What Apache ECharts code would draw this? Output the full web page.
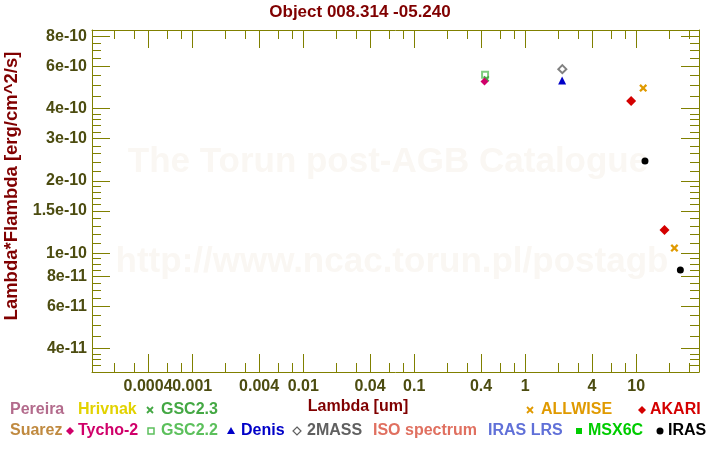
<!DOCTYPE html>
<html><head><meta charset="utf-8">
<script src="https://cdn.jsdelivr.net/npm/echarts@6/dist/echarts.min.js"></script>
<style>html,body{margin:0;padding:0;background:#fff}#c{width:720px;height:450px}</style>
</head><body><div id="c"></div>
<script>
// ---------- data ----------
const titleText = 'Object 008.314 -05.240';
const xName = 'Lambda [um]';
const yName = 'Lambda*Flambda [erg/cm^2/s]';
const watermark1 = 'The Torun post-AGB Catalogue';
const watermark2 = 'http://www.ncac.torun.pl/postagb';
const xRange = [1.25e-4, 36.8];
const yRange = [3.2e-11, 8.5e-10];
const xMajorTicks = [0.0004, 0.001, 0.004, 0.01, 0.04, 0.1, 0.4, 1, 4, 10];
const xMajorLabels = ['0.0004', '0.001', '0.004', '0.01', '0.04', '0.1', '0.4', '1', '4', '10'];
const xMinorTicks = [2e-4, 3e-4, 6e-4, 8e-4, 2e-3, 3e-3, 6e-3, 8e-3, 0.02, 0.03, 0.06, 0.08, 0.2, 0.3, 0.6, 0.8, 2, 3, 6, 8, 20, 30];
const yMajorTicks = [8e-10, 6e-10, 4e-10, 3e-10, 2e-10, 1.5e-10, 1e-10, 8e-11, 6e-11, 4e-11];
const yMajorLabels = ['8e-10', '6e-10', '4e-10', '3e-10', '2e-10', '1.5e-10', '1e-10', '8e-11', '6e-11', '4e-11'];
const yMinorTicks = [7.5e-10, 7e-10, 6.5e-10, 5.5e-10, 5e-10, 4.5e-10, 3.8e-10, 3.6e-10, 3.4e-10, 3.2e-10,
  2.8e-10, 2.6e-10, 2.4e-10, 2.2e-10, 1.9e-10, 1.8e-10, 1.7e-10, 1.6e-10, 1.4e-10, 1.3e-10, 1.2e-10, 1.1e-10,
  9.5e-11, 9e-11, 8.5e-11, 7.5e-11, 7e-11, 6.5e-11, 5.5e-11, 5e-11, 4.5e-11, 3.8e-11, 3.6e-11, 3.4e-11];

const tycho2Lambda = [0.43];          const tycho2Flux = [5.19e-10];
const gsc22Lambda = [0.435];          const gsc22Flux = [5.53e-10];
const gsc23Lambda = [0.447];          const gsc23Flux = [5.32e-10];
const denisLambda = [2.15];           const denisFlux = [5.24e-10];
const twoMassLambda = [2.16];         const twoMassFlux = [5.84e-10];
const allwiseLambda = [11.56, 22.1];  const allwiseFlux = [4.87e-10, 1.05e-10];
const akariLambda = [9, 18];          const akariFlux = [4.30e-10, 1.25e-10];
const irasLambda = [12, 25];          const irasFlux = [2.42e-10, 8.5e-11];

const legendRow1 = ['Pereira', 'Hrivnak', 'GSC2.3', 'ALLWISE', 'AKARI'];
const legendRow2 = ['Suarez', 'Tycho-2', 'GSC2.2', 'Denis', '2MASS', 'ISO spectrum', 'IRAS LRS', 'MSX6C', 'IRAS'];

// ---------- styles ----------
const AX = '#808000', TL = '#4c4c10', DR = '#800000', FF = 'Liberation Sans, Arial, sans-serif';
const C = {
  Pereira: '#b36b8c', Hrivnak: '#e2d200', 'GSC2.3': '#44a844', ALLWISE: '#e09a00', AKARI: '#d40000',
  Suarez: '#c08a40', 'Tycho-2': '#d0006a', 'GSC2.2': '#5cc05c', Denis: '#0000c8', '2MASS': '#606060',
  'ISO spectrum': '#e07060', 'IRAS LRS': '#6070d8', MSX6C: '#00cc00', IRAS: '#000000'
};
const CROSS = 'path://M0,2L2,0L5,3L8,0L10,2L7,5L10,8L8,10L5,7L2,10L0,8L3,5Z';
const zip = (a, b) => a.map((v, i) => [v, b[i]]);
const lg = Math.log10;

function tickAxis(kind, pos, vals, len, labelIdx, line) {
  const isX = kind === 'x';
  const rng = isX ? xRange : yRange;
  const ax = {
    type: 'value', gridIndex: 0, position: pos,
    min: lg(rng[0]), max: lg(rng[1]),
    splitLine: { show: false },
    axisLine: { show: line, onZero: false, lineStyle: { color: AX, width: 1 } },
    axisTick: { show: len > 0, inside: true, length: len, customValues: vals.map(lg), lineStyle: { color: AX, width: 1 } },
    axisLabel: { show: false }
  };
  if (labelIdx) {
    const ticks = isX ? xMajorTicks : yMajorTicks;
    const labels = isX ? xMajorLabels : yMajorLabels;
    ax.axisLabel = {
      show: true, customValues: labelIdx.map(i => lg(ticks[i])), margin: isX ? 7 : 5,
      hideOverlap: false, showMinLabel: true, showMaxLabel: true,
      color: TL, fontWeight: 'bold', fontSize: 16, fontFamily: FF,
      formatter: v => { const i = ticks.findIndex(t => Math.abs(lg(t) - v) < 1e-9); return i >= 0 ? labels[i] : ''; }
    };
  }
  return ax;
}
const xIdxRest = xMajorTicks.map((_, i) => i).filter(i => i > 0);
const yIdxAll = yMajorTicks.map((_, i) => i);

const xAxes = [
  { type: 'log', logBase: 10, min: xRange[0], max: xRange[1], show: false, gridIndex: 0 },
  tickAxis('x', 'bottom', xMajorTicks, 18, xIdxRest, true),
  tickAxis('x', 'bottom', xMinorTicks, 9, [0], false),
  tickAxis('x', 'top', xMajorTicks, 18, null, true),
  tickAxis('x', 'top', xMinorTicks, 9, null, false)
];
const yAxes = [
  { type: 'log', logBase: 10, min: yRange[0], max: yRange[1], show: false, gridIndex: 0 },
  tickAxis('y', 'left', yMajorTicks, 18, yIdxAll, true),
  tickAxis('y', 'left', yMinorTicks, 9, null, false),
  tickAxis('y', 'right', yMajorTicks, 18, null, true),
  tickAxis('y', 'right', yMinorTicks, 9, null, false)
];

function sc(name, data, symbol, size, extra) {
  return Object.assign({
    name, type: 'scatter', xAxisIndex: 0, yAxisIndex: 0, data, symbol, symbolSize: size, z: 5,
    itemStyle: { color: C[name], opacity: 1 }, emphasis: { disabled: true }
  }, extra || {});
}
const series = [
  sc('GSC2.2', zip(gsc22Lambda, gsc22Flux), 'emptyRect', 6, { itemStyle: { color: C['GSC2.2'], borderColor: C['GSC2.2'], borderWidth: 2 } }),
  sc('GSC2.3', zip(gsc23Lambda, gsc23Flux), CROSS, 6),
  sc('Tycho-2', zip(tycho2Lambda, tycho2Flux), 'diamond', 8),
  sc('2MASS', zip(twoMassLambda, twoMassFlux), 'emptyDiamond', 8, { itemStyle: { color: C['2MASS'], borderColor: C['2MASS'], borderWidth: 1.3 } }),
  sc('Denis', zip(denisLambda, denisFlux), 'triangle', 8),
  sc('ALLWISE', zip(allwiseLambda, allwiseFlux), CROSS, 8),
  sc('AKARI', zip(akariLambda, akariFlux), 'diamond', 10),
  sc('IRAS', zip(irasLambda, irasFlux), 'circle', 7)
];

// ---------- legend / texts ----------
function symShape(kind, cx, cy, color) {
  switch (kind) {
    case 'x': return { type: 'group', children: [
      { type: 'line', shape: { x1: cx - 3, y1: cy - 3, x2: cx + 3, y2: cy + 3 }, style: { stroke: color, lineWidth: 1.8 } },
      { type: 'line', shape: { x1: cx - 3, y1: cy + 3, x2: cx + 3, y2: cy - 3 }, style: { stroke: color, lineWidth: 1.8 } }] };
    case 'diamond': return { type: 'polygon', shape: { points: [[cx, cy - 4], [cx + 4, cy], [cx, cy + 4], [cx - 4, cy]] }, style: { fill: color } };
    case 'odiamond': return { type: 'polygon', shape: { points: [[cx, cy - 4], [cx + 4, cy], [cx, cy + 4], [cx - 4, cy]] }, style: { fill: '#fff', stroke: color, lineWidth: 1.2 } };
    case 'osquare': return { type: 'rect', shape: { x: cx - 3, y: cy - 3, width: 6, height: 6 }, style: { fill: '#fff', stroke: color, lineWidth: 1.5 } };
    case 'triangle': return { type: 'polygon', shape: { points: [[cx, cy - 4], [cx + 4, cy + 3], [cx - 4, cy + 3]] }, style: { fill: color } };
    case 'square': return { type: 'rect', shape: { x: cx - 3, y: cy - 3, width: 6, height: 6 }, style: { fill: color } };
    case 'circle': return { type: 'circle', shape: { cx, cy, r: 3.5 }, style: { fill: color } };
  }
}
const legendLayout = {
  Pereira: [10, null, 0], Hrivnak: [78, null, 0], 'GSC2.3': [161, 'x', 150], ALLWISE: [541, 'x', 530], AKARI: [650, 'diamond', 642],
  Suarez: [10, null, 0], 'Tycho-2': [78, 'diamond', 70], 'GSC2.2': [161, 'osquare', 151], Denis: [241, 'triangle', 231],
  '2MASS': [307, 'odiamond', 297], 'ISO spectrum': [373, null, 0], 'IRAS LRS': [488, null, 0], MSX6C: [588, 'square', 579], IRAS: [668, 'circle', 660]
};
const graphics = [
  { type: 'text', z: 0, silent: true, style: { text: watermark1, x: 388, y: 162, align: 'center', verticalAlign: 'middle', fill: '#faf7f3', font: 'bold 35px ' + FF } },
  { type: 'text', z: 0, silent: true, style: { text: watermark2, x: 392, y: 262, align: 'center', verticalAlign: 'middle', fill: '#faf7f3', font: 'bold 35px ' + FF } },
  { type: 'text', style: { text: titleText, x: 360, y: 12, align: 'center', verticalAlign: 'middle', fill: DR, font: 'bold 17px ' + FF } },
  { type: 'text', style: { text: xName, x: 358, y: 407, align: 'center', verticalAlign: 'middle', fill: DR, font: 'bold 16px ' + FF } },
  { type: 'text', rotation: Math.PI / 2, x: 12, y: 186, style: { text: yName, x: 0, y: 0, align: 'center', verticalAlign: 'middle', fill: DR, font: 'bold 18.5px ' + FF } }
];
[[legendRow1, 410], [legendRow2, 431]].forEach(([row, y]) => {
  row.forEach(name => {
    const [tx, kind, sx] = legendLayout[name];
    graphics.push({ type: 'text', style: { text: name, x: tx, y, align: 'left', verticalAlign: 'middle', fill: C[name], font: 'bold 16px ' + FF } });
    if (kind) graphics.push(symShape(kind, sx, y, C[name]));
  });
});

const chart = echarts.init(document.getElementById('c'), null, { renderer: 'canvas' });
chart.setOption({
  animation: false,
  backgroundColor: '#fff',
  grid: { left: 92, top: 30, width: 607, height: 342, containLabel: false },
  xAxis: xAxes,
  yAxis: yAxes,
  series,
  graphic: graphics
});
</script>
</body></html>
